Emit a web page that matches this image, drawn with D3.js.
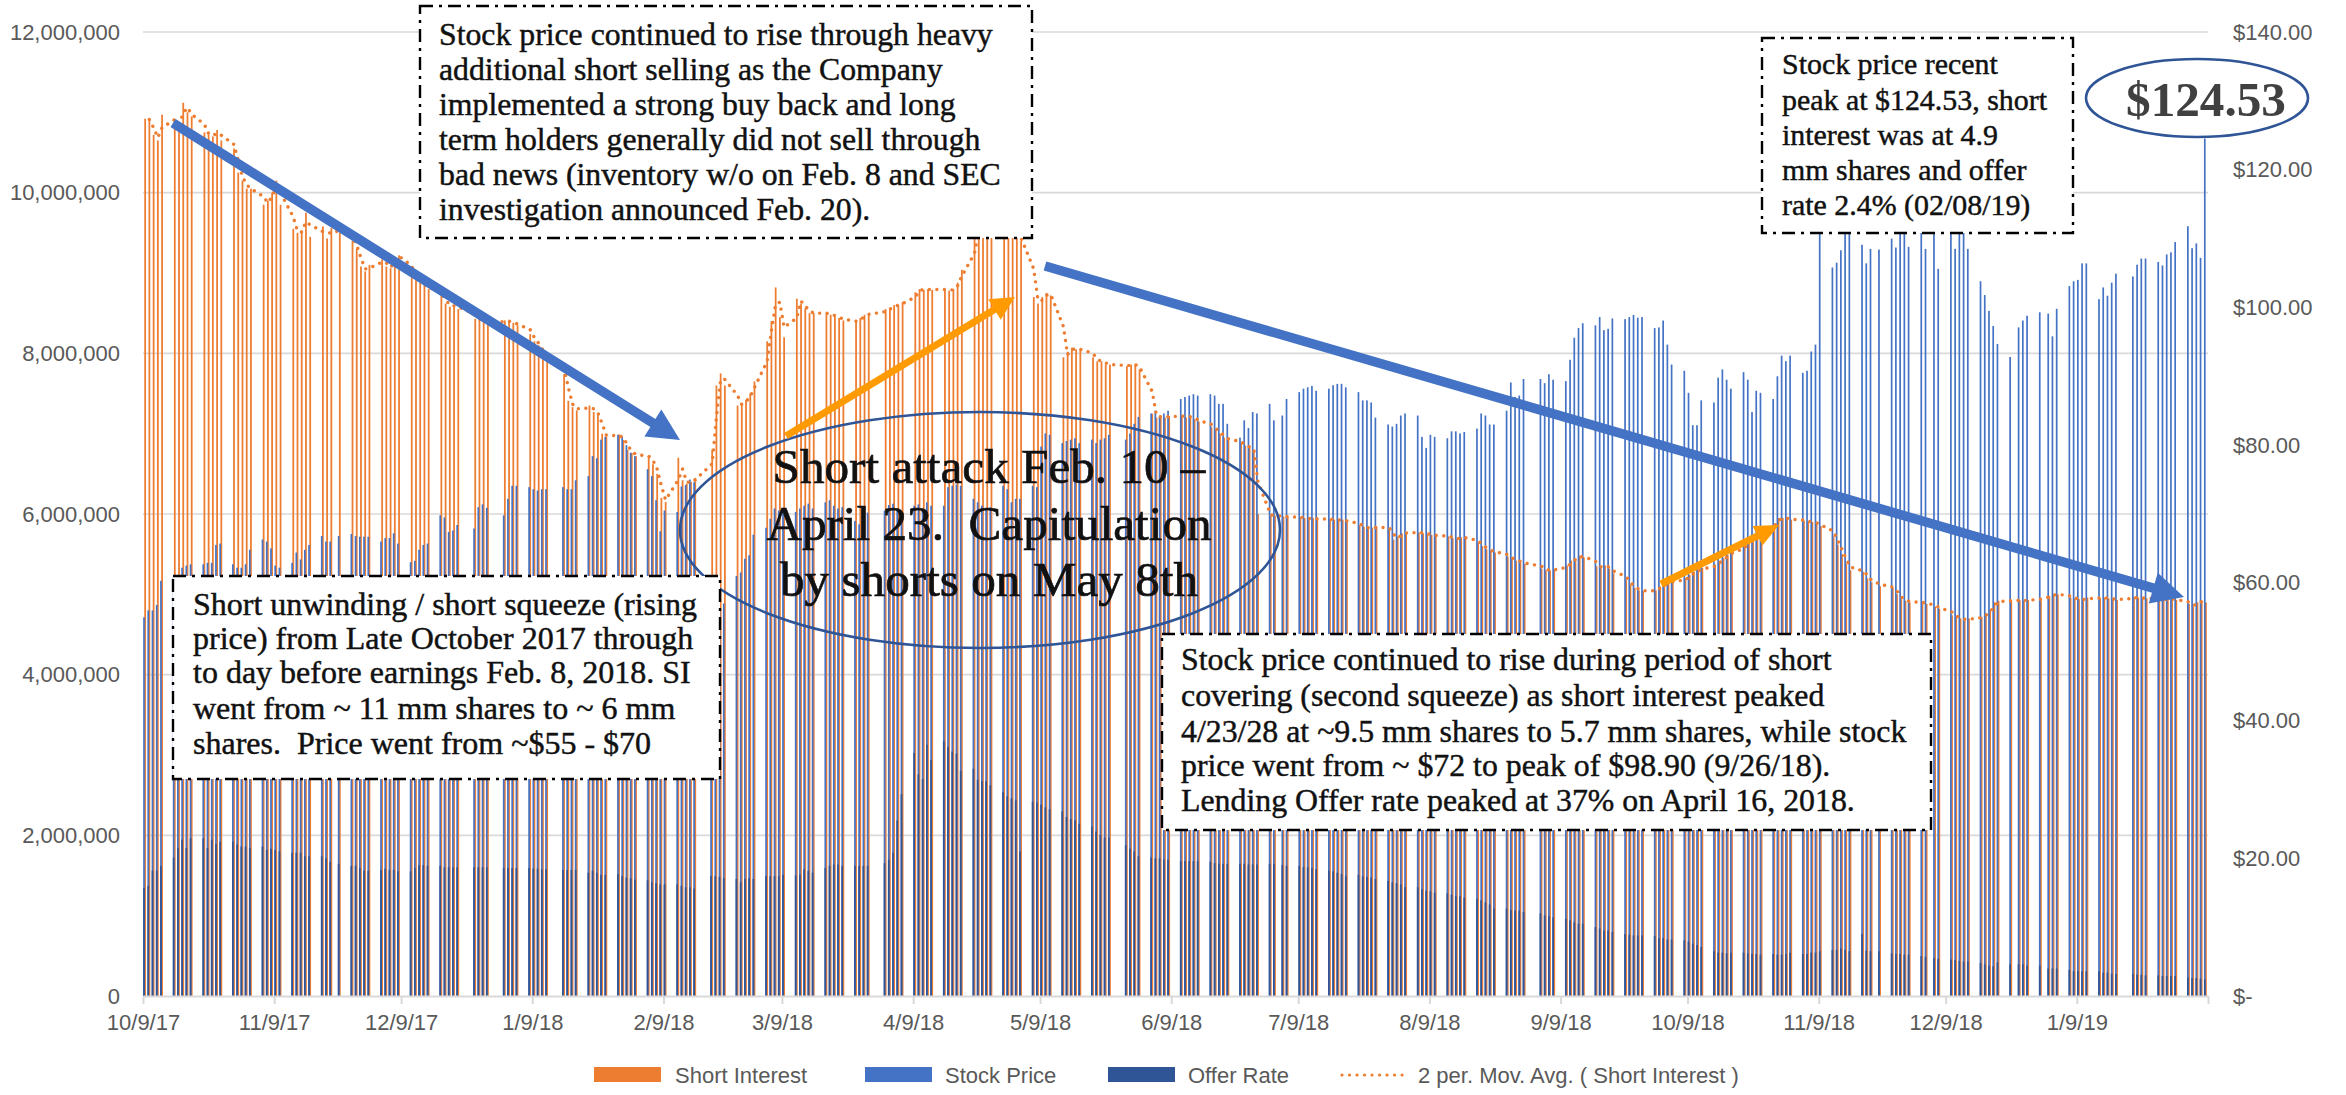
<!DOCTYPE html>
<html><head><meta charset="utf-8">
<script src="https://cdn.jsdelivr.net/npm/d3@7"></script>
<style>body{margin:0;background:#fff} svg{display:block} text{white-space:pre}</style>
</head><body><svg id="c" width="2346" height="1095"></svg>
<script>
// ---------------- DATA ----------------
const firstDay = "2017-10-09", lastDay = "2019-02-08", axisEnd = "2019-02-09";
const marketHolidays = ["2017-11-23","2017-12-25","2018-01-01","2018-01-15","2018-02-19","2018-03-30",
  "2018-05-28","2018-07-04","2018-09-03","2018-11-22","2018-12-05","2018-12-25","2019-01-01","2019-01-21"];

// Short interest, millions of shares, one inner array per trading week
const shortInterestWeeks = [
 [10.92,10.90,10.72,10.65,10.97],[10.85,10.85,11.12,11.00,10.95],[10.75,10.72,10.70,10.78,10.65],
 [10.55,10.25,10.15,10.05,10.05],[9.85,9.90,10.00,10.15,9.85],[9.55,9.50,9.52,9.75,9.45],
 [9.58,9.43,9.56,9.50],[9.40,9.30,9.08,9.02,9.10],[9.17,9.08,9.06,9.20,9.22],
 [8.96,8.92,8.88,8.84,8.80],[8.72,8.62,8.58,8.60,8.55],[8.43,8.42,8.40,8.38],
 [8.41,8.39,8.38,8.35],[8.24,8.15,8.10,7.98,7.90],[7.74,7.41,7.33,7.29],
 [7.35,7.27,7.25,7.00,6.96],[6.99,6.92,6.80,6.76,6.72],[6.72,6.62,6.50,6.20,6.15],
 [6.70,6.42,6.38,6.40,6.45],[6.80,7.60,7.75,7.60],[7.35,7.38,7.42,7.50,7.65],
 [8.15,8.40,8.82,8.45,8.20],[8.68,8.62,8.56,8.50,8.50],[8.50,8.48,8.46,8.44,8.41],
 [8.39,8.44,8.48,8.49],[8.55,8.55,8.60,8.60,8.64],[8.76,8.80,8.79,8.80,8.79],
 [8.80,8.78,8.80,8.88,9.04],[9.45,9.60,9.65,9.60,9.55],[9.55,9.50,9.50,9.48,9.40],
 [8.70,8.62,8.70,8.75,8.72],[7.95,8.02,8.07,8.05,8.05],[7.95,7.90,7.90,7.86,7.86],
 [7.84,7.86,7.86,7.80],[7.25,7.20,7.22,7.20,7.22],[7.22,7.20,7.22,7.18,7.15],
 [7.08,7.05,7.00,6.95,6.92],[6.88,6.85,6.82,6.80,6.00],[5.98,5.98,5.97,5.96],
 [5.96,5.95,5.94,5.95,5.93],[5.94,5.93,5.92,5.93,5.90],[5.86,5.84,5.82,5.83,5.84],
 [5.82,5.68,5.72,5.76,5.77],[5.77,5.76,5.75,5.74,5.73],[5.72,5.70,5.69,5.71,5.70],
 [5.64,5.60,5.56,5.54,5.52],[5.47,5.44,5.42,5.40,5.38],[5.32,5.30,5.30,5.31],
 [5.36,5.42,5.45,5.48,5.46],[5.35,5.34,5.36,5.32,5.26],[5.18,5.12,5.08,5.05,5.04],
 [5.05,5.10,5.12,5.15,5.16],[5.20,5.24,5.28,5.30,5.33],[5.37,5.41,5.45,5.49,5.53],
 [5.62,5.66,5.70,5.74,5.82],[5.88,5.95,5.95,5.94,5.93],[5.92,5.90,5.90,5.88,5.85],
 [5.72,5.62,5.50,5.38,5.30],[5.28,5.20,5.15,5.10],[5.08,5.00,4.94,4.92,4.90],
 [4.90,4.88,4.85,4.82],[4.74,4.72,4.70,4.68,4.70],[4.72,4.76,4.80,4.90,4.92],
 [4.92,4.93,4.92,4.93],[4.95,4.98,5.00,5.00],[4.96,4.95,4.94,4.93,4.96],
 [4.95,4.96,4.95,4.94,4.93],[4.97,4.96,4.95,4.95],[4.94,4.93,4.95,4.94,4.93],
 [4.88,4.85,4.90,4.92,4.90]
];
// Stock price, dollars
const stockPriceWeeks = [
 [55.0,56.0,56.0,56.8,60.3],[60.8,61.0,62.2,62.5,62.7],[62.7,62.9,62.9,65.5,65.7],
 [62.7,62.2,62.2,62.7,64.8],[66.3,66.0,65.0,62.5,62.2],[62.9,64.4,63.4,64.8,65.5],
 [66.8,66.0,66.0,66.8],[67.1,66.8,66.7,66.7,66.7],[66.0,66.5,66.5,67.2,65.7],
 [63.0,63.2,64.8,65.5,65.7],[69.8,69.5,67.4,67.6,68.4],[67.9,71.0,71.4,70.9],
 [69.8,72.2,74.1,74.1],[73.9,73.6,73.4,73.6,73.6],[73.9,73.6,73.6,74.9],
 [75.5,78.4,78.1,80.8,81.2],[81.5,81.2,80.0,78.9,78.4],[76.5,75.5,72.0,67.5,70.5],
 [70.3,74.0,74.2,75.0,74.6],[60.0,57.0,56.0,57.0],[61.0,61.5,63.5,64.0,67.0],
 [68.0,69.3,70.8,70.5,70.8],[70.3,70.8,71.2,71.5,70.8],[71.7,72.0,71.2,70.8,71.0],
 [69.0,68.5,69.5,70.2],[70.5,71.3,71.5,70.5,69.8],[71.2,71.4,70.8,71.7,71.2],
 [71.2,73.9,74.1,74.3,74.1],[72.2,71.7,71.2,70.8,71.0],[74.1,73.6,71.7,72.2,72.2],
 [74.1,73.9,79.8,81.7,81.5],[80.3,80.6,80.8,81.0,80.3],[80.8,80.3,80.8,81.0,81.5],
 [80.8,81.7,83.1,84.1],[84.6,85.0,84.1,84.6,85.0],[86.7,87.0,87.2,87.4,87.2],
 [87.4,87.2,86.0,86.0,83.1],[81.1,83.6,82.5,84.8,84.6],[86.0,83.6,84.3,86.7],
 [87.7,88.2,88.4,88.6,87.9],[88.2,88.7,88.9,88.9,88.4],[87.7,86.5,86.5,86.2,84.0],
 [83.0,82.7,83.1,84.3,84.6],[84.3,81.2,79.6,81.5,81.2],[81.0,82.0,82.0,81.7,81.9],
 [82.4,84.6,84.3,83.0,83.0],[85.0,89.1,87.0,87.2,89.6],[89.6,89.0,90.3,89.5],
 [89.3,92.4,95.6,97.0,97.7],[97.4,98.6,96.7,96.9,98.4],[98.3,98.6,98.9,98.5,98.6],
 [97.0,97.1,98.1,94.6,91.7],[90.8,87.6,82.9,82.9,86.5],[86.2,89.8,91.0,89.5,88.2],
 [90.6,89.5,84.8,87.9,87.6],[86.7,90.0,93.0,92.2,93.0],[90.5,90.8,93.6,94.6,113.5],
 [105.8,106.5,108.3,112.0,112.5],[109.1,106.4,108.5,108.4],[110.0,108.7,112.0,111.5,108.8],
 [111.5,108.5,111.0,105.6],[111.5,108.5,111.2,111.0,108.5],[103.8,101.8,99.5,97.3,94.7],
 [92.8,97.1,98.1,98.8],[99.3,99.1,95.8,99.8],[103.1,103.8,104.0,106.4,106.4],
 [101.2,102.9,101.7,103.6,104.9],[104.5,106.2,107.1,107.1],[106.6,106.1,107.7,108.0,109.5],
 [111.8,108.6,109.3,107.2,124.53]
];
// Lending offer rate, percent (plotted on the right axis)
const offerRateWeeks = [
 [15.7,16.0,18.2,18.2,18.9],[20.1,21.5,22.7,21.5,22.9],[22.9,21.5,22.7,22.1,22.4],
 [22.4,22.0,21.7,21.7,21.5],[21.7,21.2,21.4,21.2,21.0],[20.8,20.8,20.8,20.3,20.3],
 [20.3,20.0,19.5,19.2],[18.9,18.9,18.6,18.2,18.2],[18.3,18.5,18.3,18.3,18.1],
 [18.1,18.6,19.0,19.0,18.9],[18.9,18.7,18.7,18.7,18.7],[18.7,18.7,18.7,18.7],
 [18.6,18.6,18.6,18.6],[18.6,18.5,18.5,18.4,18.4],[18.3,18.3,18.3,18.3],
 [17.9,18.2,17.9,17.6,17.6],[17.7,17.4,17.2,17.1,16.9],[16.8,16.5,16.4,16.2,16.2],
 [16.2,16.0,15.8,15.8,15.6],[17.4,17.4,17.3,17.1],[17.0,16.5,17.0,17.1,17.0],
 [17.4,17.4,17.4,17.4,17.6],[17.5,17.6,18.4,18.2,17.9],[18.6,18.9,19.1,19.1,18.9],
 [18.9,18.9,18.9,18.9],[19.3,19.8,20.8,25.5,29.3],[35.3,32.2,31.5,36.5,34.3],
 [37.0,36.2,35.5,35.2,32.7],[33.0,31.4,31.2,31.2,30.6],[29.6,29.0,28.7,28.4,21.0],
 [28.2,28.1,27.8,27.4,27.1],[26.8,26.0,25.7,25.5,25.0],[24.6,23.9,23.4,23.0,23.0],
 [21.9,21.4,21.0,20.3],[20.1,20.0,20.0,19.8,19.8],[19.6,19.6,19.6,19.6,19.6],
 [19.5,19.3,19.2,19.2,19.2],[19.2,19.2,19.1,19.1,19.1],[19.2,19.2,19.0,18.9],
 [18.9,18.7,18.7,18.6,18.4],[18.2,18.1,17.9,17.7,17.4],[17.6,17.4,17.3,17.2,17.0],
 [16.7,16.5,16.4,16.2,15.8],[15.8,15.5,15.3,15.2,15.0],[14.9,14.7,14.5,14.5,14.3],
 [14.1,13.9,13.6,13.3,12.7],[12.7,12.5,12.4,12.4,12.2],[12.0,11.7,11.6,11.4],
 [11.2,11.0,10.7,10.5,10.5],[10.0,9.8,9.5,9.5,9.3],[9.0,8.9,8.8,8.8,8.8],
 [8.7,8.4,8.4,8.2,8.2],[8.1,7.9,7.6,7.4,7.1],[6.5,6.3,6.3,6.2,6.3],
 [6.3,6.2,6.1,6.1,6.0],[6.1,6.0,6.0,6.1,6.3],[6.1,6.1,6.3,6.3,6.5],
 [6.7,6.7,6.9,6.7,6.5],[9.0,6.6,6.5,6.5],[6.2,6.1,6.1,6.0,6.0],
 [5.8,5.7,5.5,5.4],[5.3,5.2,5.1,5.0,5.0],[4.8,4.6,4.4,4.3,4.9],
 [4.6,4.6,4.6,4.4],[4.4,4.0,4.0,4.0],[3.8,3.6,3.6,3.6,3.6],
 [3.6,3.4,3.4,3.2,3.2],[3.2,3.1,3.1,3.0],[3.0,2.9,2.9,2.9,2.9],
 [2.7,2.6,2.6,2.5,2.4]
];

const leftTicks = [0, 2000000, 4000000, 6000000, 8000000, 10000000, 12000000];
const rightTicks = [0, 20, 40, 60, 80, 100, 120, 140];
const dateTickLabels = ["10/9/17","11/9/17","12/9/17","1/9/18","2/9/18","3/9/18","4/9/18","5/9/18",
  "6/9/18","7/9/18","8/9/18","9/9/18","10/9/18","11/9/18","12/9/18","1/9/19","2/9/19"];
const seriesNames = ["Short Interest","Stock Price","Offer Rate","2 per. Mov. Avg. ( Short Interest )"];

const noteA = ["Stock price continued to rise through heavy","additional short selling as the Company",
  "implemented a strong buy back and long","term holders generally did not sell through",
  "bad news (inventory w/o on Feb. 8 and SEC","investigation announced Feb. 20)."];
const noteB = ["Short unwinding / short squeeze (rising","price) from Late October 2017 through",
  "to day before earnings Feb. 8, 2018. SI","went from ~ 11 mm shares to ~ 6 mm",
  "shares.  Price went from ~$55 - $70"];
const noteC = ["Stock price continued to rise during period of short","covering (second squeeze) as short interest peaked",
  "4/23/28 at ~9.5 mm shares to 5.7 mm shares, while stock","price went from ~ $72 to peak of $98.90 (9/26/18).",
  "Lending Offer rate peaked at 37% on April 16, 2018."];
const noteD = ["Stock price recent","peak at $124.53, short","interest was at 4.9","mm shares and offer","rate 2.4% (02/08/19)"];
const attackNote = ["Short attack Feb. 10 \u2013","April 23.  Capitulation","by shorts on May 8th"];
const peakLabel = "$124.53";

// ---------------- CHART ----------------
const C = {si:"#ED7D31", sp:"#4472C4", or:"#2F5597", grid:"#D9D9D9", txt:"#595959", arrowO:"#FF9A00"};
const svg = d3.select("#c");
const L = 143, R = 2208, T = 32, B = 996;
const parse = d3.utcParse("%Y-%m-%d");
const hol = new Set(marketHolidays);
const fmtISO = d3.utcFormat("%Y-%m-%d");
const days = d3.utcDay.range(parse(firstDay), d3.utcDay.offset(parse(lastDay), 1))
  .filter(d => d.getUTCDay() % 6 !== 0 && !hol.has(fmtISO(d)));
const si = shortInterestWeeks.flat().map(v => v * 1e6);
const sp = stockPriceWeeks.flat();
const orr = offerRateWeeks.flat();
const n = Math.min(days.length, si.length, sp.length, orr.length);
const rows = d3.range(n).map(i => ({date: days[i], si: si[i], sp: sp[i], or: orr[i]}));

const x = d3.scaleUtc().domain([parse(firstDay), parse(axisEnd)]).range([L, R]);
const yL = d3.scaleLinear().domain([0, 12e6]).range([B, T]);
const yR = d3.scaleLinear().domain([0, 140]).range([B, T]);
const slot = d => x(d3.utcDay.offset(d, 1)) - x(d);

// gridlines
svg.append("g").selectAll("line").data(leftTicks.slice(1)).join("line")
  .attr("x1", L).attr("x2", R).attr("y1", d => yL(d)).attr("y2", d => yL(d))
  .attr("stroke", C.grid).attr("stroke-width", 1.6);

// bars
const gb = svg.append("g");
gb.selectAll("rect.si").data(rows).join("rect").attr("class","si")
  .attr("x", d => x(d.date) + 0.30 * slot(d.date)).attr("width", d => 0.42 * slot(d.date))
  .attr("y", d => yL(d.si)).attr("height", d => B - yL(d.si)).attr("fill", C.si);
gb.selectAll("rect.sp").data(rows).join("rect").attr("class","sp")
  .attr("x", d => x(d.date) + 0.04 * slot(d.date)).attr("width", d => 0.40 * slot(d.date))
  .attr("y", d => yR(d.sp)).attr("height", d => B - yR(d.sp)).attr("fill", C.sp);
gb.selectAll("rect.or").data(rows).join("rect").attr("class","or")
  .attr("x", d => x(d.date) + 0.04 * slot(d.date)).attr("width", d => 0.40 * slot(d.date))
  .attr("y", d => yR(d.or)).attr("height", d => B - yR(d.or)).attr("fill", C.or);

// 2-period moving average trendline
const ma = rows.slice(1).map((d, i) => ({date: d.date, v: (rows[i].si + d.si) / 2}));
svg.append("path").datum(ma)
  .attr("d", d3.line().x(d => x(d.date) + slot(d.date) / 2).y(d => yL(d.v)))
  .attr("fill", "none").attr("stroke", C.si).attr("stroke-width", 3.4)
  .attr("stroke-linecap", "round").attr("stroke-dasharray", "0.01 7.5");

// x axis
const tickDates = dateTickLabels.map(s => d3.utcParse("%m/%d/%y")(s));
const ax = svg.append("g").attr("transform", `translate(0,${B})`)
  .call(d3.axisBottom(x).tickValues(tickDates).tickSize(8).tickSizeOuter(0)
    .tickFormat((d, i) => i < dateTickLabels.length - 1 ? dateTickLabels[i] : ""));
ax.select(".domain").attr("stroke", C.grid).attr("stroke-width", 2);
ax.selectAll(".tick line").attr("stroke", C.grid).attr("stroke-width", 2);
ax.selectAll(".tick text").attr("fill", C.txt).attr("font-size", 22).attr("font-family", "Liberation Sans, Arial, sans-serif").attr("dy", "1.05em");

// left axis
const fmtL = d3.format(",");
const al = svg.append("g").attr("transform", `translate(${L},0)`)
  .call(d3.axisLeft(yL).tickValues(leftTicks).tickSize(0).tickPadding(23).tickFormat(fmtL));
al.select(".domain").remove();
al.selectAll("text").attr("fill", C.txt).attr("font-size", 22).attr("font-family", "Liberation Sans, Arial, sans-serif");

// right axis
const ar = svg.append("g").attr("transform", `translate(${R},0)`)
  .call(d3.axisRight(yR).tickValues(rightTicks).tickSize(0).tickPadding(25)
    .tickFormat(d => d === 0 ? "$-" : "$" + d3.format(".2f")(d)));
ar.select(".domain").remove();
ar.selectAll("text").attr("fill", C.txt).attr("font-size", 22).attr("font-family", "Liberation Sans, Arial, sans-serif");

// legend
const lg = svg.append("g").attr("font-family", "Liberation Sans, Arial, sans-serif").attr("font-size", 22).attr("fill", C.txt);
const legendItems = [
  {k:"rect", c:C.si, x0:594, tx:675}, {k:"rect", c:C.sp, x0:865, tx:945},
  {k:"rect", c:C.or, x0:1108, tx:1188}, {k:"line", c:C.si, x0:1342, tx:1418}];
legendItems.forEach((it, i) => {
  if (it.k === "rect") lg.append("rect").attr("x", it.x0).attr("y", 1067).attr("width", 67).attr("height", 15).attr("fill", it.c);
  else lg.append("line").attr("x1", it.x0).attr("x2", it.x0 + 64).attr("y1", 1075).attr("y2", 1075)
    .attr("stroke", it.c).attr("stroke-width", 3.2).attr("stroke-linecap", "round").attr("stroke-dasharray", "0.01 7.5");
  lg.append("text").attr("x", it.tx).attr("y", 1075).attr("dy", "0.35em").text(seriesNames[i]);
});

// ---------------- ANNOTATIONS ----------------
const SERIF = "Liberation Serif, 'DejaVu Serif', serif";
function fitSize(str, target, weight) {
  const t = svg.append("text").attr("font-family", SERIF).attr("font-size", 100).attr("font-weight", weight || "normal").text(str);
  const w = t.node().getComputedTextLength(); t.remove();
  return 100 * target / w;
}
function arrow(x1, y1, x2, y2, color, sw, hl, hw) {
  const a = Math.atan2(y2 - y1, x2 - x1), ca = Math.cos(a), sa = Math.sin(a);
  const bx = x2 - hl * ca, by = y2 - hl * sa;
  svg.append("line").attr("x1", x1).attr("y1", y1).attr("x2", bx + ca).attr("y2", by + sa)
    .attr("stroke", color).attr("stroke-width", sw);
  svg.append("path").attr("d", `M${x2},${y2}L${bx - hw/2 * sa},${by + hw/2 * ca}L${bx + hw/2 * sa},${by - hw/2 * ca}Z`).attr("fill", color);
}
function note(box, lines, tx, centers, refIdx, refW) {
  svg.append("rect").attr("x", box[0]).attr("y", box[1]).attr("width", box[2]).attr("height", box[3])
    .attr("fill", "#fff").attr("stroke", "#000").attr("stroke-width", 2.4).attr("stroke-dasharray", "13 6 3 6");
  const fs = fitSize(lines[refIdx], refW);
  const g = svg.append("g").attr("font-family", SERIF).attr("font-size", fs).attr("fill", "#111")
    .attr("stroke", "#111").attr("stroke-width", 0.45);
  lines.forEach((s, i) => g.append("text").attr("x", tx).attr("y", centers[i] + 0.28 * fs).text(s));
}

// ellipse 1 + text
svg.append("ellipse").attr("cx", 980).attr("cy", 530).attr("rx", 300).attr("ry", 118)
  .attr("fill", "none").attr("stroke", C.or).attr("stroke-width", 2.6);
{
  const fs = fitSize(attackNote[0], 433);
  const g = svg.append("g").attr("font-family", SERIF).attr("font-size", fs).attr("fill", "#111")
    .attr("stroke", "#111").attr("stroke-width", 0.7).attr("text-anchor", "middle");
  [468, 525, 581].forEach((c, i) => g.append("text").attr("x", 989).attr("y", c + 0.3 * fs).text(attackNote[i]));
}

// arrows
arrow(173, 123, 680, 440, C.sp, 9.5, 32, 32);
arrow(1045, 266, 2184, 597, C.sp, 9.5, 32, 32);
arrow(786, 436, 1015, 297, C.arrowO, 7, 24, 24);
arrow(1661, 584, 1779, 525, C.arrowO, 7, 24, 22);

note([420, 6, 612, 232], noteA, 439, [36.4, 71, 106, 141, 176, 211.5], 0, 554);
note([173, 576, 547, 203], noteB, 193, [605.6, 639.7, 674.4, 709.8, 745.2], 0, 504);
note([1162, 634, 769, 196], noteC, 1181, [660.7, 696.7, 732.8, 767.5, 802.3], 0, 651);
note([1762, 38, 311, 195], noteD, 1782, [66, 102, 136.7, 172, 207], 1, 265);

// $124.53 callout
svg.append("ellipse").attr("cx", 2197).attr("cy", 98).attr("rx", 111).attr("ry", 39)
  .attr("fill", "#fff").attr("stroke", C.or).attr("stroke-width", 2.6);
{
  const fs = fitSize(peakLabel, 160, "bold");
  svg.append("text").attr("x", 2206).attr("y", 100 + 0.33 * fs).attr("text-anchor", "middle")
    .attr("font-family", SERIF).attr("font-weight", "bold").attr("font-size", fs).attr("fill", "#404040").text(peakLabel);
}
</script></body></html>
